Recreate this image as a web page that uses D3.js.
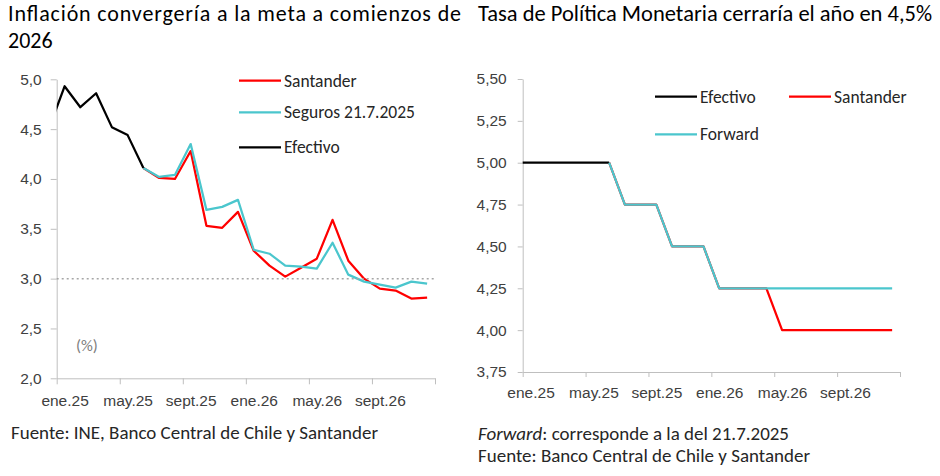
<!DOCTYPE html>
<html>
<head>
<meta charset="utf-8">
<script src="https://cdn.jsdelivr.net/npm/d3@7"></script>
<style>
  body { margin: 0; background: #fff; }
  svg { font-family: Calibri, Carlito, Lato, sans-serif; }
  .axis path, .axis line { stroke: #bfbfbf; }
  .axis text { fill: #404040; font-size: 15.5px; }
</style>
</head>
<body>
<svg id="chart" width="940" height="476"></svg>
<script>
// months, index 0 = dic.24 (sits just left of the plot area and is clipped)
const meses = ["dic.24", "ene.25", "feb.25", "mar.25", "abr.25", "may.25", "jun.25", "jul.25", "ago.25",
    "sept.25", "oct.25", "nov.25", "dic.25", "ene.26", "feb.26", "mar.26", "abr.26", "may.26", "jun.26",
    "jul.26", "ago.26", "sept.26", "oct.26", "nov.26", "dic.26"];
const etiquetasMeses = ["ene.25", "may.25", "sept.25", "ene.26", "may.26", "sept.26"];

// left chart: inflacion (%), dic.24 - jun.25 for efectivo, jun.25 - dic.26 for projections
const inflEfectivo = [4.5, 4.93, 4.72, 4.86, 4.52, 4.44, 4.11];
const inflSantander = [4.11, 4.01, 4.0, 4.28, 3.53, 3.51, 3.67, 3.28, 3.13, 3.02, 3.11, 3.20, 3.59, 3.18, 3.00, 2.90, 2.88, 2.80, 2.81];
const inflSeguros = [4.11, 4.02, 4.04, 4.35, 3.69, 3.72, 3.79, 3.29, 3.25, 3.13, 3.12, 3.10, 3.36, 3.04, 2.97, 2.94, 2.91, 2.97, 2.95];
const inflMeta = 3.0;
const inflTicks = [2.0, 2.5, 3.0, 3.5, 4.0, 4.5, 5.0];

// right chart: TPM (%)
const tpmEfectivo = [5.0, 5.0, 5.0, 5.0, 5.0, 5.0, 5.0];
const tpmSantander = [5.0, 4.75, 4.75, 4.75, 4.5, 4.5, 4.5, 4.25, 4.25, 4.25, 4.25, 4.0, 4.0, 4.0, 4.0, 4.0, 4.0, 4.0, 4.0];
const tpmForward = [5.0, 4.75, 4.75, 4.75, 4.5, 4.5, 4.5, 4.25, 4.25, 4.25, 4.25, 4.25, 4.25, 4.25, 4.25, 4.25, 4.25, 4.25, 4.25];
const tpmTicks = [3.75, 4.0, 4.25, 4.5, 4.75, 5.0, 5.25, 5.5];

const inicioProy = meses.indexOf("jun.25");

const colores = { santander: "#ff0000", seguros: "#4bc6cd", efectivo: "#000000" };

const locale = d3.formatLocale({ decimal: ",", thousands: ".", grouping: [3], currency: ["$", ""] });

const svg = d3.select("#chart");

function toPoints(values, start) {
    return values.map((v, i) => ({ i: start + i, v }));
}

function drawPanel(opts) {
    const x = d3.scaleLinear().domain([0.5, meses.length - 0.5]).range([opts.left, opts.right]);
    const y = d3.scaleLinear().domain(opts.yDomain).range([opts.bottom, opts.top]);

    const g = svg.append("g");

    g.append("clipPath").attr("id", opts.id + "-clip")
        .append("rect")
        .attr("x", opts.left).attr("y", opts.top - 10)
        .attr("width", opts.right - opts.left).attr("height", opts.bottom - opts.top + 20);

    // y axis
    g.append("g").attr("class", "axis")
        .attr("transform", `translate(${opts.left},0)`)
        .call(d3.axisLeft(y).tickValues(opts.yTicks).tickFormat(locale.format(opts.yFormat))
            .tickSize(opts.tickSize).tickPadding(opts.yPad).tickSizeOuter(0));

    // x axis: ticks between months, labels at month centres
    const bordes = d3.range(0, meses.length, 4).map(i => i + 0.5);
    g.append("g").attr("class", "axis")
        .attr("transform", `translate(0,${opts.bottom})`)
        .call(d3.axisBottom(x).tickValues(bordes).tickFormat("").tickSize(opts.tickSize).tickSizeOuter(0));
    g.append("g").attr("class", "axis")
        .attr("transform", `translate(0,${opts.bottom})`)
        .call(d3.axisBottom(x).tickValues(etiquetasMeses.map(m => meses.indexOf(m)))
            .tickFormat(i => meses[i]).tickSize(0).tickPadding(opts.xPad))
        .call(a => a.select(".domain").remove());

    const line = d3.line().x(d => x(d.i)).y(d => y(d.v));
    const lines = g.append("g").attr("clip-path", `url(#${opts.id}-clip)`);

    opts.series.forEach(s => {
        lines.append("path")
            .datum(s.data)
            .attr("fill", "none")
            .attr("stroke", s.color)
            .attr("stroke-width", 2.25)
            .attr("stroke-linejoin", "round")
            .attr("d", line);
    });

    return { x, y, g };
}

// ---- left panel
const left = drawPanel({
    id: "infl", left: 56.7, right: 435, top: 79.3, bottom: 378.3,
    yDomain: [2, 5], yTicks: inflTicks, yFormat: ".1f", tickSize: 6, yPad: 9, xPad: 17,
    series: [
        { data: toPoints(inflSantander, inicioProy), color: colores.santander },
        { data: toPoints(inflSeguros, inicioProy), color: colores.seguros },
        { data: toPoints(inflEfectivo, 0), color: colores.efectivo },
    ],
});

left.g.append("line")
    .attr("x1", left.x(0.5)).attr("x2", left.x(meses.length - 0.5))
    .attr("y1", left.y(inflMeta)).attr("y2", left.y(inflMeta))
    .attr("stroke", "#a6a6a6").attr("stroke-width", 1.5).attr("stroke-dasharray", "2,3");

left.g.append("text").attr("x", 76).attr("y", 351)
    .attr("fill", "#808080").style("font-size", "16.5px").text("(%)");

// ---- right panel
drawPanel({
    id: "tpm", left: 522.7, right: 900, top: 79, bottom: 372,
    yDomain: [3.75, 5.5], yTicks: tpmTicks, yFormat: ".2f", tickSize: 5, yPad: 11, xPad: 15,
    series: [
        { data: toPoints(tpmSantander, inicioProy), color: colores.santander },
        { data: toPoints(tpmEfectivo, 0), color: colores.efectivo },
        { data: toPoints(tpmForward, inicioProy), color: colores.seguros },
    ],
});

// ---- legends
function legendItem(x, y, label, color) {
    svg.append("line").attr("x1", x).attr("x2", x + 42).attr("y1", y).attr("y2", y)
        .attr("stroke", color).attr("stroke-width", 2.25);
    svg.append("text").attr("x", x + 45).attr("y", y).attr("dy", "0.35em")
        .attr("fill", "#262626").style("font-size", "17.5px").text(label);
}
legendItem(239, 80.7, "Santander", colores.santander);
legendItem(239, 112.3, "Seguros 21.7.2025", colores.seguros);
legendItem(239, 147.3, "Efectivo", colores.efectivo);

legendItem(655, 96.7, "Efectivo", colores.efectivo);
legendItem(789, 96.7, "Santander", colores.santander);
legendItem(655, 134.3, "Forward", colores.seguros);

// ---- titles and notes
svg.append("text").attr("x", 8).attr("y", 21).attr("textLength", 453).attr("lengthAdjust", "spacing")
    .style("font-size", "22px").attr("fill", "#000").text("Inflación convergería a la meta a comienzos de");
svg.append("text").attr("x", 8).attr("y", 47.7)
    .style("font-size", "22px").attr("fill", "#000").text("2026");
svg.append("text").attr("x", 478).attr("y", 21).attr("textLength", 454).attr("lengthAdjust", "spacingAndGlyphs")
    .style("font-size", "22px").attr("fill", "#000").text("Tasa de Política Monetaria cerraría el año en 4,5%");

svg.append("text").attr("x", 11).attr("y", 439).attr("textLength", 367).attr("lengthAdjust", "spacingAndGlyphs")
    .style("font-size", "18px").attr("fill", "#262626").text("Fuente: INE, Banco Central de Chile y Santander");

const nota = svg.append("text").attr("x", 478).attr("y", 440).attr("textLength", 311).attr("lengthAdjust", "spacingAndGlyphs")
    .style("font-size", "18px").attr("fill", "#262626");
nota.append("tspan").style("font-style", "italic").text("Forward");
nota.append("tspan").text(": corresponde a la del 21.7.2025");
svg.append("text").attr("x", 478).attr("y", 462.3).attr("textLength", 332).attr("lengthAdjust", "spacingAndGlyphs")
    .style("font-size", "18px").attr("fill", "#262626").text("Fuente: Banco Central de Chile y Santander");
</script>
</body>
</html>
